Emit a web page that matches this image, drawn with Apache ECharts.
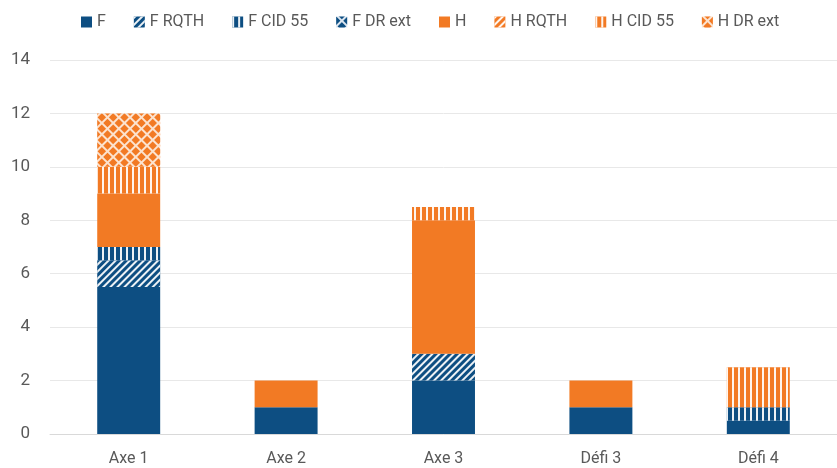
<!DOCTYPE html>
<html><head><meta charset="utf-8">
<script src="https://cdn.jsdelivr.net/npm/echarts@6/dist/echarts.min.js"></script>
<style>html,body{margin:0;padding:0;background:#fff}#c{width:837px;height:468px}</style>
</head><body><div id="c"></div>
<script>
const categories = ['Axe 1','Axe 2','Axe 3','Défi 3','Défi 4'];
const F        = [5.5, 1, 2, 1, 0.5];
const F_RQTH   = [1, 0, 1, 0, 0];
const F_CID55  = [0.5, 0, 0, 0, 0.5];
const F_DRext  = [0, 0, 0, 0, 0];
const H        = [2, 1, 5, 1, 0];
const H_RQTH   = [0, 0, 0, 0, 0];
const H_CID55  = [1, 0, 0.5, 0, 1.5];
const H_DRext  = [2, 0, 0, 0, 0];
const yTicks = [0,2,4,6,8,10,12,14];

const BLUE = '#0D4E82', ORANGE = '#F27A24';
const diag = {symbol:'rect', color:'rgba(255,255,255,0.92)', dashArrayX:[1,0], dashArrayY:[2,3], rotation:-Math.PI/4, symbolSize:1};
const vert = {symbol:'rect', color:'rgba(255,255,255,0.92)', dashArrayX:[2,4], dashArrayY:[1,0], rotation:0, symbolSize:1};
function cross(c){return {symbol:'rect', color:c, dashArrayX:[5.5,1.5], dashArrayY:[5.5,1.5], rotation:Math.PI/4, symbolSize:1};}

function s(name, data, color, decal){
  const st = {color: color};
  if (decal) st.decal = decal;
  return {name, type:'bar', stack:'t', data, barWidth:'40%', itemStyle:st, emphasis:{disabled:true}};
}
const series = [
  s('F', F, BLUE),
  s('F RQTH', F_RQTH, BLUE, diag),
  s('F CID 55', F_CID55, BLUE, vert),
  s('F DR ext', F_DRext, '#DCE6F0', cross(BLUE)),
  s('H', H, ORANGE),
  s('H RQTH', H_RQTH, ORANGE, diag),
  s('H CID 55', H_CID55, ORANGE, vert),
  s('H DR ext', H_DRext, '#FCE3CF', cross(ORANGE)),
];
const chart = echarts.init(document.getElementById('c'));
chart.setOption({
  animation:false,
  textStyle:{fontFamily:'Roboto, "Noto Sans", sans-serif'},
  legend:{top:9, left:76, itemWidth:11, itemHeight:11, itemGap:28, icon:'rect',
    textStyle:{fontSize:16, color:'#595959'}},
  grid:{left:50, top:60, width:800, bottom:34},
  xAxis:{type:'category', data:categories,
    axisLine:{lineStyle:{color:'#D9D9D9'}}, axisTick:{show:false},
    axisLabel:{fontSize:16, color:'#595959', margin:17}},
  yAxis:{type:'value', min:0, max:14, interval:2,
    axisLabel:{fontSize:17, color:'#595959', margin:20, formatter:v=>yTicks.includes(v)?String(v):''},
    splitLine:{lineStyle:{color:'#E8E8E8'}}},
  series
});
</script></body></html>
